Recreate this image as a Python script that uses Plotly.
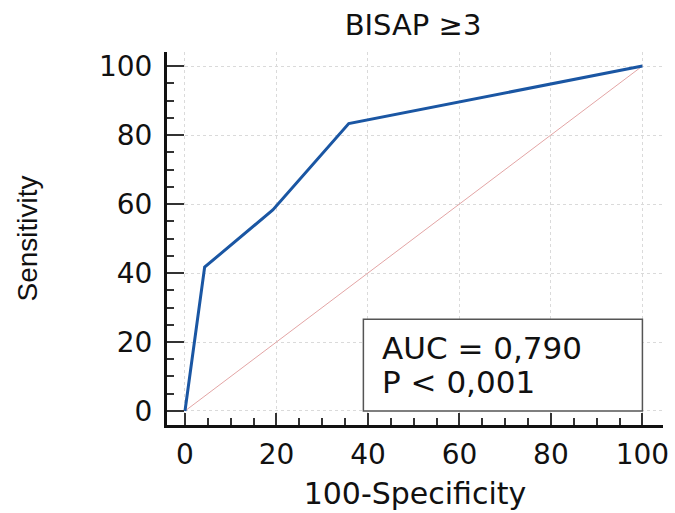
import plotly.graph_objects as go

# Data
fpr = [0, 4.3, 19.2, 35.8, 100]          # 100-Specificity
tpr = [0, 41.7, 58.3, 83.3, 100]         # Sensitivity
diag_x = [0, 100]
diag_y = [0, 100]
tick_vals = [0, 20, 40, 60, 80, 100]
tick_text = ["0", "20", "40", "60", "80", "100"]
title_text = "BISAP ≥3"
x_title = "100-Specificity"
y_title = "Sensitivity"
stats_lines = ["AUC = 0,790", "P < 0,001"]

FONT = "DejaVu Sans, Liberation Sans, Arial, sans-serif"

fig = go.Figure()
fig.add_trace(go.Scatter(x=diag_x, y=diag_y, mode="lines",
                         line=dict(color="#e3a5a5", width=1), hoverinfo="skip",
                         showlegend=False))
fig.add_trace(go.Scatter(x=fpr, y=tpr, mode="lines",
                         line=dict(color="#1a56a3", width=3), showlegend=False))

axis_common = dict(
    tickvals=tick_vals, ticktext=tick_text,
    ticks="inside", tickcolor="#333333", tickwidth=2,
    showline=True, linecolor="#111111", linewidth=3,
    showgrid=True, gridcolor="#dadada", gridwidth=1, griddash="dot",
    zeroline=False, automargin=False,
    tickfont=dict(family=FONT, size=28, color="#111111"),
    minor=dict(dtick=5, ticks="inside", tickcolor="#333333", tickwidth=2,
               ticklen=7, showgrid=False),
)

fig.update_layout(
    width=675, height=513,
    margin=dict(l=167, r=12, t=52, b=88),
    paper_bgcolor="white", plot_bgcolor="white",
    title=dict(text=title_text, x=413 / 675, xanchor="center", y=1 - 25 / 513,
               yanchor="middle", automargin=False,
               font=dict(family=FONT, size=29, color="#111111")),
    xaxis=dict(range=[-3.93, 104.5], ticklen=12, ticklabelstandoff=2,
               title=dict(text=x_title, standoff=14,
                          font=dict(family=FONT, size=30, color="#111111")),
               **axis_common),
    yaxis=dict(range=[-4.06, 104.06], ticklen=17, ticklabelstandoff=6,
               title=dict(text=y_title, standoff=54,
                          font=dict(family="Liberation Sans, Arial, sans-serif",
                                    size=28, color="#111111")),
               **axis_common),
)

# Statistics box
fig.add_shape(type="rect", xref="x", yref="y", x0=39, x1=100, y0=0, y1=26.6,
              line=dict(color="#555555", width=1.5), fillcolor="white",
              layer="above")
for txt, yy in zip(stats_lines, [18.4, 8.4]):
    fig.add_annotation(x=42.6, y=yy, xref="x", yref="y", text=txt,
                       showarrow=False, xanchor="left", yanchor="middle",
                       font=dict(family=FONT, size=31, color="#111111"))

fig.write_html("out.html", config={"displayModeBar": False},
               post_script="document.body.style.margin='0';document.body.style.overflow='hidden';")
